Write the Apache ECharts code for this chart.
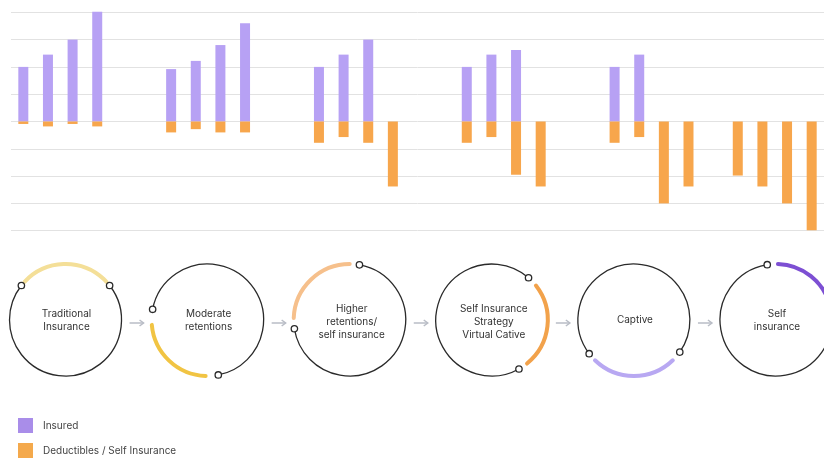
<!DOCTYPE html>
<html>
<head>
<meta charset="utf-8">
<script src="https://cdn.jsdelivr.net/npm/echarts@6/dist/echarts.min.js"></script>
<style>
  html, body { margin: 0; padding: 0; background: #fff; }
  #main { width: 824px; height: 460px; }
</style>
</head>
<body>
<div id="main"></div>
<script>
// bar slots (empty strings are spacers between the stages)
var slots = ['T1', 'T2', 'T3', 'T4', '', '',
  'M1', 'M2', 'M3', 'M4', ' ', '  ',
  'H1', 'H2', 'H3', 'H4', '   ', '    ',
  'S1', 'S2', 'S3', 'S4', '     ', '      ',
  'C1', 'C2', 'C3', 'C4', '       ',
  'I1', 'I2', 'I3', 'I4'];

var insured = [2.0, 2.45, 3.0, 4.02, '-', '-',
  1.92, 2.22, 2.8, 3.6, '-', '-',
  2.0, 2.45, 3.0, '-', '-', '-',
  2.0, 2.45, 2.62, '-', '-', '-',
  2.0, 2.45, '-', '-', '-',
  '-', '-', '-', '-'];

var deductibles = [-0.09, -0.18, -0.09, -0.18, '-', '-',
  -0.4, -0.28, -0.4, -0.4, '-', '-',
  -0.78, -0.57, -0.78, -2.38, '-', '-',
  -0.78, -0.57, -1.95, -2.38, '-', '-',
  -0.78, -0.57, -3.0, -2.38, '-',
  -1.98, -2.38, -3.0, -3.98];

// process diagram below the bars
var stages = ['Traditional\nInsurance', 'Moderate\nretentions', 'Higher\nretentions/\nself insurance',
  'Self Insurance\nStrategy\nVirtual Cative', 'Captive', 'Self\ninsurance'];
var arcColors = ['#f4df98', '#f1c443', '#f6c08c', '#f2a24b', '#b8a8f2', '#7d4fd3'];
// angles in degrees, counter-clockwise, 0 = right
var colorArcs = [[43, 137], [185, 268], [90, 178], [-51, 38], [226, 314], [15, 88]];
var darkArcs = [[142, 398], [281, 529], [189, 440], [49, 299], [325, 577], [99, 370]];

var cx0 = 65.5, step = 142.1, cy = 320, R = 56;
var rad = Math.PI / 180;

function arcShape(cx, a) {
  return { cx: cx, cy: cy, r: R, startAngle: -a[1] * rad, endAngle: -a[0] * rad, clockwise: true };
}
function pt(cx, deg) {
  return [cx + R * Math.cos(deg * rad), cy - R * Math.sin(deg * rad)];
}

var graphics = [];
stages.forEach(function (name, i) {
  var cx = cx0 + step * i;
  graphics.push({
    type: 'arc', shape: arcShape(cx, darkArcs[i]),
    style: { stroke: '#2a2a2a', lineWidth: 1.3, fill: null }
  });
  graphics.push({
    type: 'arc', shape: arcShape(cx, colorArcs[i]),
    style: { stroke: arcColors[i], lineWidth: 4, fill: null, lineCap: 'round' }
  });
  [darkArcs[i][0], darkArcs[i][1]].forEach(function (d) {
    var p = pt(cx, d);
    graphics.push({
      type: 'circle', shape: { cx: p[0], cy: p[1], r: 3.2 },
      style: { stroke: '#2a2a2a', lineWidth: 1.3, fill: '#fff' }
    });
  });
  var lines = name.split('\n').length;
  graphics.push({
    type: 'text', x: cx + (lines === 3 ? 2 : 1), y: cy + (lines === 3 ? 2 : 0),
    style: {
      text: name, fill: '#333', fontSize: 10, fontFamily: 'Inter, Roboto, sans-serif',
      align: 'center', verticalAlign: 'middle', lineHeight: 13
    }
  });
  if (i < stages.length - 1) {
    var ax = cx + step / 2;
    graphics.push({
      type: 'line', shape: { x1: ax - 7, y1: 323, x2: ax + 7, y2: 323 },
      style: { stroke: '#b9bdc6', lineWidth: 1.5 }
    });
    graphics.push({
      type: 'polyline', shape: { points: [[ax + 3, 320], [ax + 7, 323], [ax + 3, 326]] },
      style: { stroke: '#b9bdc6', lineWidth: 1.5, fill: null }
    });
  }
});

var chart = echarts.init(document.getElementById('main'));

var option = {
  animation: false,
  grid: { left: 11, top: 12.3, width: 820.4, height: 218.4 },
  legend: {
    orient: 'vertical', left: 18, top: 418, padding: 0,
    itemWidth: 15, itemHeight: 15, itemGap: 10,
    icon: 'rect',
    textStyle: { fontSize: 10, color: '#444', fontFamily: 'Inter, Roboto, sans-serif', padding: [0, 0, 0, 5] },
    data: [
      { name: 'Insured', itemStyle: { color: '#a98de9' } },
      { name: 'Deductibles / Self Insurance', itemStyle: { color: '#f4a94c' } }
    ]
  },
  xAxis: {
    type: 'category', data: slots, show: false
  },
  yAxis: {
    type: 'value', min: -4, max: 4, interval: 1,
    axisLabel: { show: false }, axisLine: { show: false }, axisTick: { show: false },
    splitLine: { lineStyle: { color: '#e2e2e2', width: 1 } }
  },
  series: [
    {
      name: 'Insured', type: 'bar', stack: 'all', barWidth: 10, clip: false,
      itemStyle: { color: '#b7a1f4' },
      data: insured
    },
    {
      name: 'Deductibles / Self Insurance', type: 'bar', stack: 'all', barWidth: 10, clip: false,
      itemStyle: { color: '#f7a64c' },
      data: deductibles
    }
  ],
  graphic: graphics
};

chart.setOption(option);
</script>
</body>
</html>
